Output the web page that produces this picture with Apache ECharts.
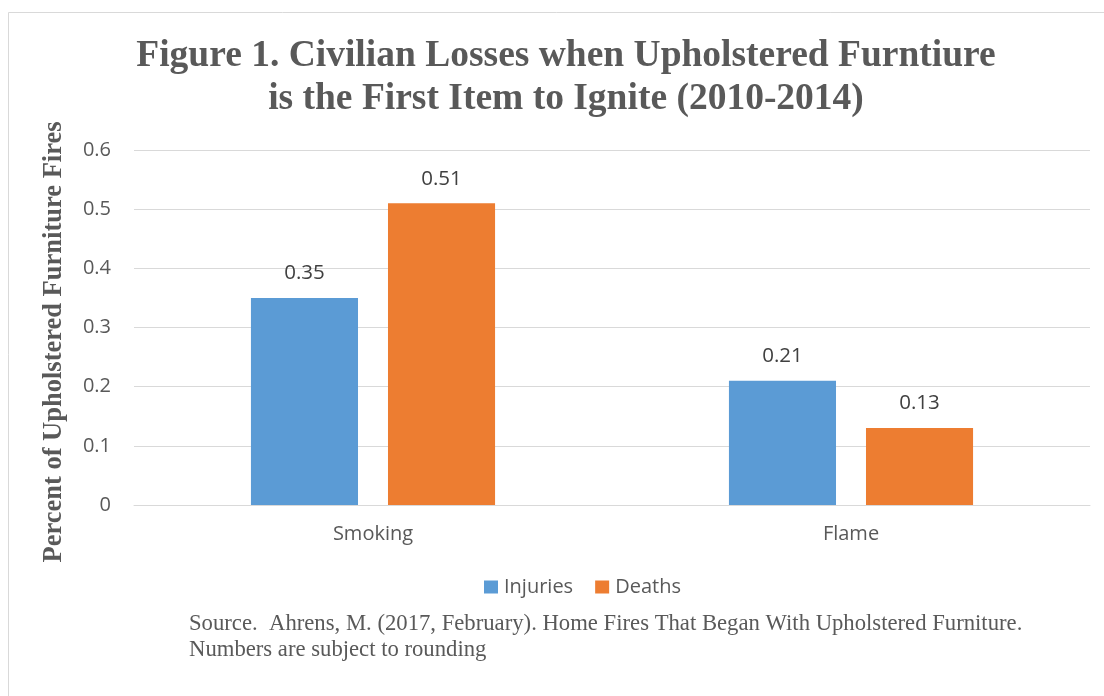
<!DOCTYPE html>
<html>
<head>
<meta charset="utf-8">
<script src="https://cdn.jsdelivr.net/npm/echarts@6/dist/echarts.min.js"></script>
<style>html,body{margin:0;padding:0;background:#fff}#c{width:1104px;height:696px}</style>
</head>
<body>
<div id="c"></div>
<script>
const categories = ['Smoking', 'Flame'];
const injuries = [0.35, 0.21];
const deaths = [0.51, 0.13];
const yTicks = [0, 0.1, 0.2, 0.3, 0.4, 0.5, 0.6];

const chart = echarts.init(document.getElementById('c'));
const sans = '"Open Sans", "Noto Sans", sans-serif';
const serif = '"Liberation Serif", "DejaVu Serif", serif';
chart.setOption({
  animation: false,
  backgroundColor: '#fff',
  title: {
    text: 'Figure 1. Civilian Losses when Upholstered Furntiure\nis the First Item to Ignite (2010-2014)',
    left: 561, top: 30, textAlign: 'center',
    textStyle: { fontFamily: serif, fontWeight: 'bold', fontSize: 37.5, color: '#595959', lineHeight: 43 }
  },
  legend: {
    data: ['Injuries', 'Deaths'], left: 479, top: 572,
    itemWidth: 14, itemHeight: 13, itemGap: 22, icon: 'rect',
    textStyle: { fontFamily: sans, fontSize: 20, color: '#595959', padding: [0, 0, 0, 1] }
  },
  grid: { left: 134, right: 14, top: 150, bottom: 191, containLabel: false },
  xAxis: {
    type: 'category', data: categories,
    axisLine: { lineStyle: { color: '#D9D9D9', width: 1 } },
    axisTick: { show: false },
    axisLabel: { fontFamily: sans, fontSize: 20, color: '#595959', margin: 19 }
  },
  yAxis: {
    type: 'value', min: 0, max: 0.6, interval: 0.1,
    axisLine: { show: false }, axisTick: { show: false },
    splitLine: { lineStyle: { color: '#D9D9D9', width: 1 } },
    axisLabel: { fontFamily: sans, fontSize: 20, color: '#595959', margin: 23,
      formatter: v => { const t = yTicks.find(x => Math.abs(x - v) < 1e-9); return t === undefined ? '' : String(t); } }
  },
  series: [
    { name: 'Injuries', type: 'bar', data: injuries, barWidth: '22.4%', barGap: '28%',
      itemStyle: { color: '#5B9BD5' },
      label: { show: true, position: 'top', distance: 14, fontFamily: sans, fontSize: 20.5, color: '#404040' } },
    { name: 'Deaths', type: 'bar', data: deaths, barWidth: '22.4%',
      itemStyle: { color: '#ED7D31' },
      label: { show: true, position: 'top', distance: 14, fontFamily: sans, fontSize: 20.5, color: '#404040' } }
  ],
  graphic: [
    { type: 'rect', shape: { x: 8.5, y: 12.5, width: 1200, height: 800 }, style: { fill: 'none', stroke: '#D9D9D9', lineWidth: 1 }, silent: true },
    { type: 'text', x: 54, y: 342, rotation: Math.PI / 2, silent: true,
      style: { text: 'Percent of Upholstered Furniture Fires', fontFamily: serif, fontWeight: 'bold', fontSize: 26.5, fill: '#595959', align: 'center', verticalAlign: 'middle' } },
    { type: 'text', left: 189, top: 613, style: { text: 'Source.  Ahrens, M. (2017, February). Home Fires That Began With Upholstered Furniture.', fontFamily: serif, fontSize: 22.7, fill: '#595959' } },
    { type: 'text', left: 189, top: 639, style: { text: 'Numbers are subject to rounding', fontFamily: serif, fontSize: 22.7, fill: '#595959' } }
  ]
});
</script>
</body>
</html>
